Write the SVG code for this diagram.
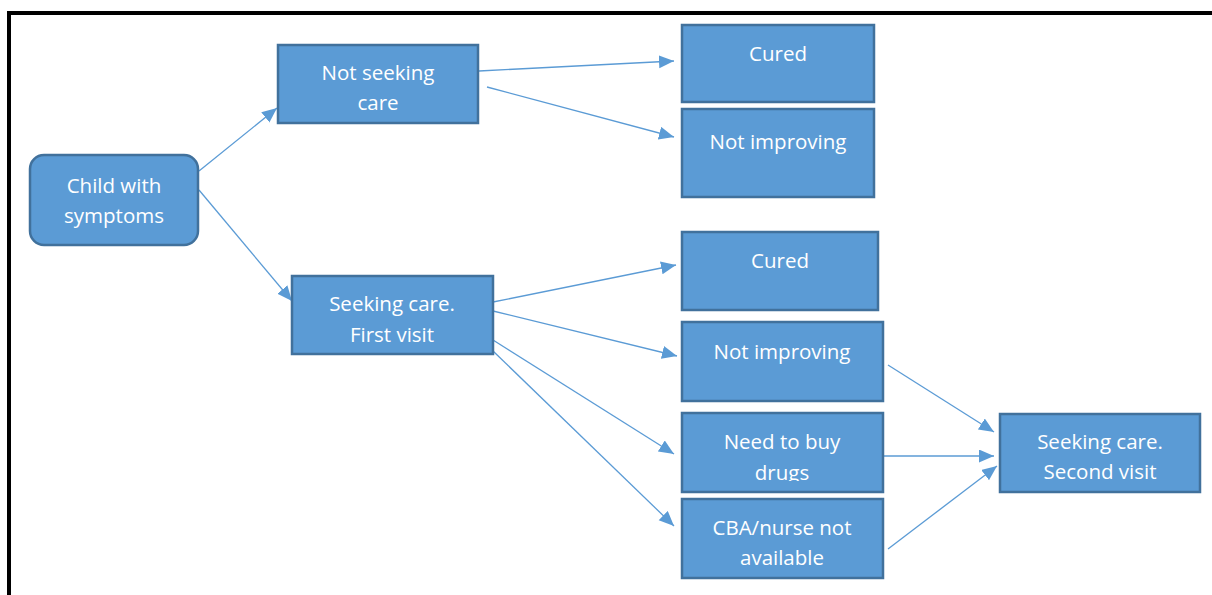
<svg xmlns="http://www.w3.org/2000/svg" width="1212" height="595" viewBox="0 0 1212 595">
<style>
.box{fill:#5b9bd5;stroke:#41719c;stroke-width:2.5}
.t{fill:#ffffff;font-family:"Open Sans","Liberation Sans",sans-serif;font-size:20.5px;text-anchor:middle}
.c{stroke:#5b9bd5;stroke-width:1.3;fill:none;marker-end:url(#ah)}
</style>
<defs>
<marker id="ah" markerUnits="userSpaceOnUse" markerWidth="16" markerHeight="14" refX="15" refY="6.5" orient="auto">
<path d="M0,0 L15,6.5 L0,13 Z" fill="#5b9bd5"/>
</marker>
<clipPath id="clipDrugs"><rect x="682" y="413" width="201" height="68"/></clipPath>
</defs>
<rect x="0" y="0" width="1212" height="595" fill="#ffffff"/>
<g id="frame">
<line x1="7" y1="13" x2="1212" y2="13" stroke="#000" stroke-width="4"/>
<line x1="9" y1="11" x2="9" y2="595" stroke="#000" stroke-width="4"/>
</g>
<g id="connectors">
<line class="c" x1="199" y1="171" x2="277" y2="108"/>
<line class="c" x1="199" y1="190" x2="292" y2="301"/>
<line class="c" x1="479" y1="71" x2="674" y2="61"/>
<line class="c" x1="487" y1="87" x2="674" y2="137"/>
<line class="c" x1="493" y1="302" x2="676" y2="265"/>
<line class="c" x1="493" y1="311" x2="677" y2="356"/>
<line class="c" x1="493" y1="340" x2="674" y2="454"/>
<line class="c" x1="493" y1="351" x2="674" y2="526"/>
<line class="c" x1="888" y1="365" x2="994" y2="432"/>
<line class="c" x1="883" y1="456" x2="994" y2="456"/>
<line class="c" x1="888" y1="549" x2="997" y2="466"/>
</g>
<g id="child">
<rect class="box" x="30" y="155" width="168" height="90" rx="14"/>
<text class="t" x="114" y="193">Child with</text>
<text class="t" x="114" y="223">symptoms</text>
</g>
<g id="notseeking">
<rect class="box" x="278" y="45" width="200" height="78"/>
<text class="t" x="378" y="80">Not seeking</text>
<text class="t" x="378" y="110">care</text>
</g>
<g id="cured1">
<rect class="box" x="682" y="25" width="192" height="77"/>
<text class="t" x="778" y="61">Cured</text>
</g>
<g id="notimproving1">
<rect class="box" x="682" y="109" width="192" height="88"/>
<text class="t" x="778" y="149">Not improving</text>
</g>
<g id="firstvisit">
<rect class="box" x="292" y="276" width="201" height="78"/>
<text class="t" x="392" y="311">Seeking care.</text>
<text class="t" x="392" y="342">First visit</text>
</g>
<g id="cured2">
<rect class="box" x="682" y="232" width="196" height="78"/>
<text class="t" x="780" y="268">Cured</text>
</g>
<g id="notimproving2">
<rect class="box" x="682" y="322" width="201" height="79"/>
<text class="t" x="782" y="359">Not improving</text>
</g>
<g id="buydrugs">
<rect class="box" x="682" y="413" width="201" height="79"/>
<g clip-path="url(#clipDrugs)">
<text class="t" x="782" y="449">Need to buy</text>
<text class="t" x="782" y="480">drugs</text>
</g>
</g>
<g id="cba">
<rect class="box" x="682" y="499" width="201" height="79"/>
<text class="t" x="782" y="535">CBA/nurse not</text>
<text class="t" x="782" y="565">available</text>
</g>
<g id="secondvisit">
<rect class="box" x="1000" y="414" width="200" height="78"/>
<text class="t" x="1100" y="449">Seeking care.</text>
<text class="t" x="1100" y="479">Second visit</text>
</g>
</svg>
